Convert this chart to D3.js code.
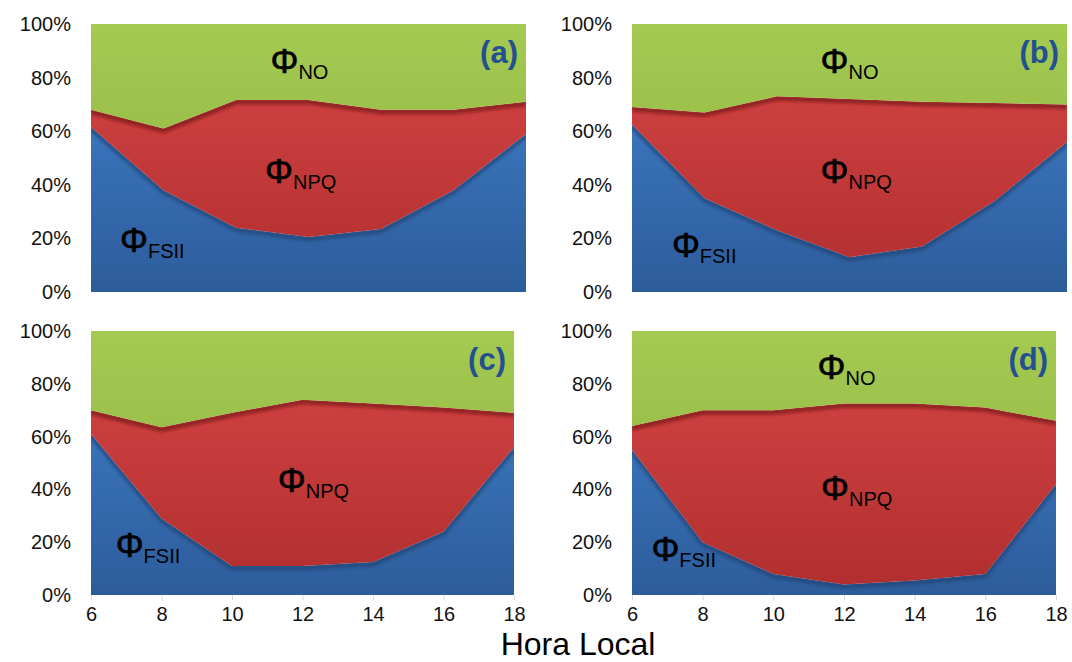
<!DOCTYPE html>
<html>
<head>
<meta charset="utf-8">
<script src="https://cdn.jsdelivr.net/npm/d3@7"></script>
<style>
  body { margin: 0; background: #fff; }
  text { font-family: "Liberation Sans", Arial, sans-serif; }
</style>
</head>
<body>
<svg id="chart" width="1072" height="662"></svg>
<script>
// x categories and y ticks
var hours = [6, 8, 10, 12, 14, 16, 18];
var yTicks = [0, 0.2, 0.4, 0.6, 0.8, 1];
var keys = ['FSII', 'NPQ', 'NO'];

// (a)
var fsiiA = [61.6, 38, 24, 20.5, 23.5, 38, 59];
var npqA  = [6.4, 23, 47.6, 51.1, 44.5, 30, 12];
var noA   = [32, 39, 28.4, 28.4, 32, 32, 29];
// (b)
var fsiiB = [62.5, 35, 23, 13, 17, 34, 56];
var npqB  = [6.5, 32, 50, 59, 54, 36.5, 14];
var noB   = [31, 33, 27, 28, 29, 29.5, 30];
// (c)
var fsiiC = [61, 29, 11, 11, 12.5, 24, 56];
var npqC  = [9, 34.5, 58, 63, 60, 47, 13];
var noC   = [30, 36.5, 31, 26, 27.5, 29, 31];
// (d)
var fsiiD = [55, 20, 8, 4, 5.5, 8, 42];
var npqD  = [9, 50, 62, 68.5, 67, 63, 24];
var noD   = [36, 30, 30, 27.5, 27.5, 29, 34];

var panelData = [[fsiiA, npqA, noA], [fsiiB, npqB, noB], [fsiiC, npqC, noC], [fsiiD, npqD, noD]];

// layout of the four panels, label positions in data units (hour, percent)
var panels = [
  {name: '(a)', x0: 91, x1: 526, y0: 24, y1: 292, xAxis: false,
   labels: [['FSII', 6.8, 15], ['NPQ', 10.8, 40.5], ['NO', 10.95, 81.7]]},
  {name: '(b)', x0: 632, x1: 1067, y0: 24, y1: 292, xAxis: false,
   labels: [['FSII', 7.1, 13], ['NPQ', 11.2, 40.5], ['NO', 11.2, 81.7]]},
  {name: '(c)', x0: 91, x1: 514, y0: 331, y1: 595, xAxis: true,
   labels: [['FSII', 6.7, 14.4], ['NPQ', 11.3, 39]]},
  {name: '(d)', x0: 632, x1: 1056, y0: 331, y1: 595, xAxis: true,
   labels: [['FSII', 6.55, 13], ['NPQ', 11.35, 36], ['NO', 11.25, 82]]}
];

var colors = {
  FSII: ['#4283cf', '#2d5c9b'],
  NPQ:  ['#d84646', '#b02e2e'],
  NO:   ['#a4ca52', '#8bb13e']
};
var edge = {FSII: '#1f4170', NPQ: '#6e1414', NO: '#5c7a24'};

var svg = d3.select('#chart');
var defs = svg.append('defs');

defs.append('filter').attr('id', 'soft')
  .attr('x', '-5%').attr('y', '-20%').attr('width', '110%').attr('height', '140%')
  .append('feGaussianBlur').attr('stdDeviation', 1.6);

var stack = d3.stack().keys(keys);

panels.forEach(function(p, pi){
  var x = d3.scaleLinear().domain([6, 18]).range([p.x0, p.x1]);
  var y = d3.scaleLinear().domain([0, 1]).range([p.y1, p.y0]);

  var rows = hours.map(function(h, i){
    return {hour: h, FSII: panelData[pi][0][i] / 100, NPQ: panelData[pi][1][i] / 100, NO: panelData[pi][2][i] / 100};
  });
  var layers = stack(rows);

  var g = svg.append('g');

  var area = d3.area()
    .x(function(d){ return x(d.data.hour); })
    .y0(function(d){ return y(d[0]); })
    .y1(function(d){ return y(Math.min(d[1], 1)); });
  var topLine = d3.line()
    .x(function(d){ return x(d.data.hour); })
    .y(function(d){ return y(d[1]) + 2; });

  layers.forEach(function(layer){
    var k = layer.key;
    var gid = 'grad' + pi + k;
    var grad = defs.append('linearGradient').attr('id', gid)
      .attr('gradientUnits', 'userSpaceOnUse')
      .attr('x1', 0).attr('x2', 0).attr('y1', p.y0).attr('y2', p.y1);
    grad.append('stop').attr('offset', '0%').attr('stop-color', colors[k][0]);
    grad.append('stop').attr('offset', '100%').attr('stop-color', colors[k][1]);

    var cid = 'clip' + pi + k;
    defs.append('clipPath').attr('id', cid)
      .append('path').attr('d', area(layer));

    g.append('path')
      .attr('d', area(layer))
      .attr('fill', 'url(#' + gid + ')');

    if (k !== 'NO') {
      // dark shaded edge along the top of the band
      g.append('g').attr('clip-path', 'url(#' + cid + ')')
        .append('path')
        .attr('d', topLine(layer))
        .attr('fill', 'none')
        .attr('stroke', edge[k])
        .attr('stroke-width', 5)
        .attr('stroke-opacity', 0.65)
        .attr('filter', 'url(#soft)');
    }
  });

  // y axis
  var yAxis = d3.axisLeft(y).tickValues(yTicks).tickFormat(d3.format('.0%'))
    .tickSize(0).tickPadding(20);
  var ya = g.append('g').attr('transform', 'translate(' + p.x0 + ',0)').call(yAxis);
  ya.select('.domain').remove();
  ya.selectAll('text').style('font-size', '20px').attr('fill', '#111')
    .style('font-family', '"Liberation Sans", Arial, sans-serif');

  if (p.xAxis) {
    var xAxis = d3.axisBottom(x).tickValues(hours).tickSize(5).tickPadding(7);
    var xa = g.append('g').attr('transform', 'translate(0,' + p.y1 + ')').call(xAxis);
    xa.select('.domain').remove();
    xa.selectAll('line').attr('stroke', '#d9d9d9');
    xa.selectAll('text').style('font-size', '20px').attr('fill', '#111')
      .style('font-family', '"Liberation Sans", Arial, sans-serif');
  }

  // panel letter
  g.append('text')
    .attr('x', p.x1 - 8).attr('y', p.y0 + 39)
    .attr('text-anchor', 'end')
    .style('font-size', '31px').style('font-weight', 'bold')
    .attr('fill', '#24508f')
    .text(p.name);

  // Phi labels
  p.labels.forEach(function(l){
    var t = g.append('text')
      .attr('x', x(l[1])).attr('y', y(l[2] / 100))
      .attr('fill', '#000');
    t.append('tspan').style('font-size', '35px')
      .attr('stroke', '#000').attr('stroke-width', 0.6).text('\u03A6');
    t.append('tspan').attr('dy', 6).style('font-size', '20px').text(l[0]);
  });
});

svg.append('text')
  .attr('x', 578).attr('y', 655)
  .attr('text-anchor', 'middle')
  .style('font-size', '32px')
  .attr('fill', '#000')
  .text('Hora Local');
</script>
</body>
</html>
